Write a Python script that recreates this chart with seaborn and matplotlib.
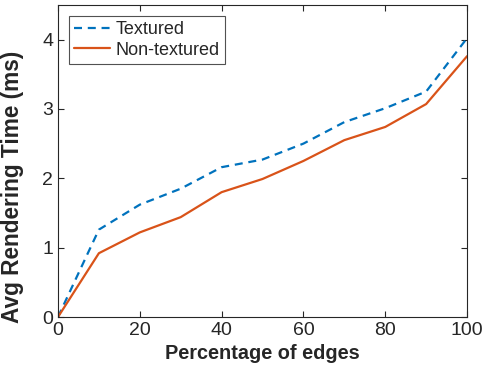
import pandas as pd
import matplotlib
matplotlib.use("Agg")
import matplotlib.pyplot as plt
import seaborn as sns

# values
edges = [0, 10, 20, 30, 40, 50, 60, 70, 80, 90, 100]
textured = [0, 1.26, 1.62, 1.85, 2.16, 2.27, 2.50, 2.81, 3.01, 3.25, 4.02]
non_textured = [0, 0.92, 1.22, 1.44, 1.80, 1.99, 2.25, 2.55, 2.74, 3.07, 3.76]
series = ["Textured", "Non-textured"]

df = pd.DataFrame({
    "edges": edges * 2,
    "time": textured + non_textured,
    "kind": [series[0]] * len(edges) + [series[1]] * len(edges),
})

sns.set_style("ticks")
plt.rcParams['font.family'] = ['Liberation Sans', 'DejaVu Sans']

fig = plt.figure(figsize=(4.83, 3.73), dpi=100)
ax = fig.add_axes([0.12, 0.15, 0.847, 0.837])

sns.lineplot(data=df, x="edges", y="time", hue="kind", style="kind",
             palette={"Textured": "#0072BD", "Non-textured": "#D95319"},
             dashes={"Textured": (3.6, 2.6), "Non-textured": ""},
             linewidth=1.6, ax=ax)

ax.set_xlim(0, 100)
ax.set_ylim(0, 4.5)
ax.set_xticks(range(0, 101, 20))
ax.set_yticks([0, 1, 2, 3, 4])
ax.tick_params(direction="in", top=True, right=True, labelsize=14,
               colors="#262626", length=4, width=0.8)
for s in ax.spines.values():
    s.set_color("#262626")
    s.set_linewidth(0.8)

ax.set_xlabel("Percentage of edges", fontsize=14.3, fontweight="bold", labelpad=4)
ax.set_ylabel("Avg Rendering Time (ms)", fontsize=16.3, fontweight="bold")
ax.yaxis.set_label_coords(-0.083, 0.417)

leg = ax.legend(loc="upper left", fontsize=13, frameon=True, fancybox=False,
                edgecolor="#262626", handlelength=2.0, borderpad=0.3,
                labelspacing=0.2, handletextpad=0.3, borderaxespad=0.6)
leg.get_frame().set_linewidth(0.8)

fig.savefig("out.png", dpi=100)
